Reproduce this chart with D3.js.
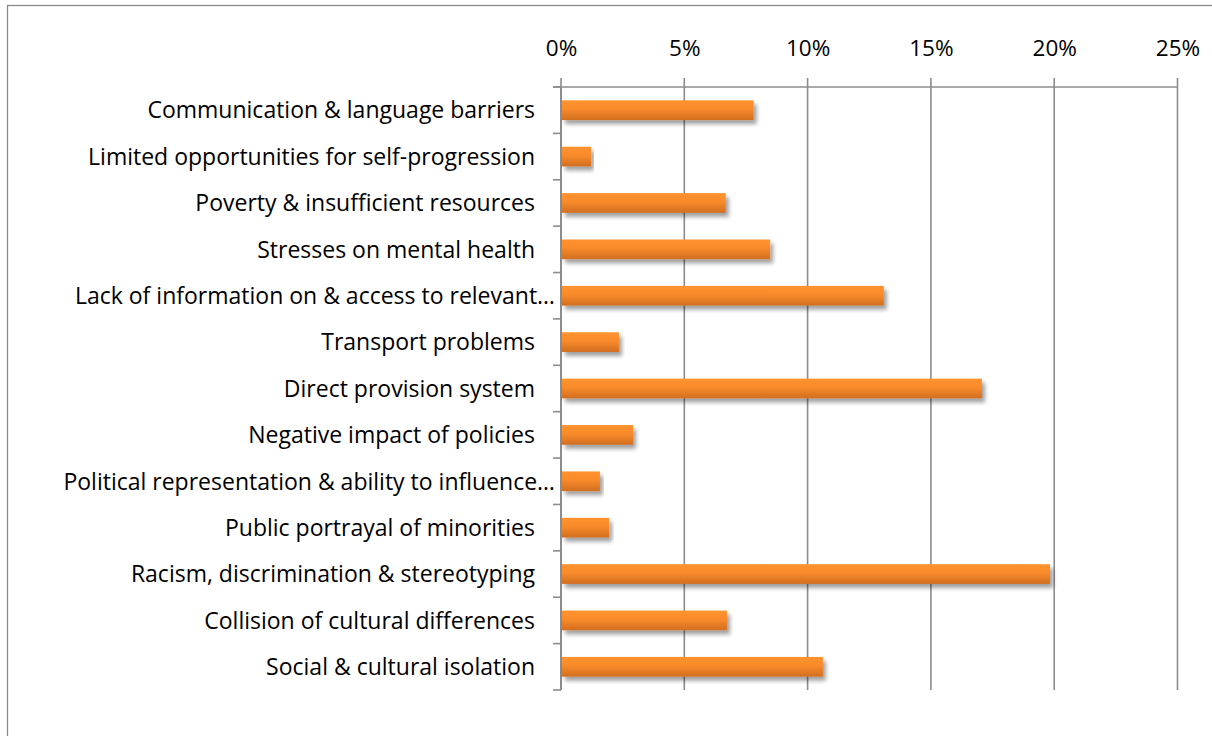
<!DOCTYPE html>
<html>
<head>
<meta charset="utf-8">
<script src="https://cdn.jsdelivr.net/npm/d3@7"></script>
<style>
  html, body { margin: 0; padding: 0; background: #fff; }
  svg { display: block; }
  text { font-family: "Open Sans", sans-serif; fill: #000; }
</style>
</head>
<body>
<script>
// Barriers reported, as share of all responses
const categories = [
  "Communication & language barriers",
  "Limited opportunities for self-progression",
  "Poverty & insufficient resources",
  "Stresses on mental health",
  "Lack of information on & access to relevant\u2026",
  "Transport problems",
  "Direct provision system",
  "Negative impact of policies",
  "Political representation & ability to influence\u2026",
  "Public portrayal of minorities",
  "Racism, discrimination & stereotyping",
  "Collision of cultural differences",
  "Social & cultural isolation"
];
const values = [7.81, 1.22, 6.68, 8.48, 13.09, 2.35, 17.07, 2.92, 1.58, 1.95, 19.83, 6.73, 10.62];
const tickValues = [0, 5, 10, 15, 20, 25];
const tickLabels = ["0%", "5%", "10%", "15%", "20%", "25%"];

const W = 1212, H = 736;
const margin = { top: 87, left: 561, right: 1212 - 1177.5, bottom: 736 - 690 };
const labelSize = 23;
const tickSize = 22.5;

const svg = d3.select("body").append("svg")
  .attr("width", W).attr("height", H);

const defs = svg.append("defs");
const grad = defs.append("linearGradient")
  .attr("id", "barFill").attr("x1", 0).attr("y1", 0).attr("x2", 0).attr("y2", 1);
grad.append("stop").attr("offset", "0%").attr("stop-color", "#ff932f");
grad.append("stop").attr("offset", "45%").attr("stop-color", "#f98a2b");
grad.append("stop").attr("offset", "100%").attr("stop-color", "#d16e20");

const shadow = defs.append("filter").attr("id", "barShadow")
  .attr("x", "-5%").attr("y", "-30%").attr("width", "115%").attr("height", "190%");
shadow.append("feGaussianBlur").attr("in", "SourceAlpha").attr("stdDeviation", 2.2).attr("result", "blur");
shadow.append("feOffset").attr("in", "blur").attr("dx", 3).attr("dy", 3.5).attr("result", "off");
shadow.append("feComponentTransfer").attr("in", "off").attr("result", "soft")
  .append("feFuncA").attr("type", "linear").attr("slope", 0.38);
const merge = shadow.append("feMerge");
merge.append("feMergeNode").attr("in", "soft");
merge.append("feMergeNode").attr("in", "SourceGraphic");

// chart frame
svg.append("rect")
  .attr("x", 7.5).attr("y", 5.5).attr("width", 1240).attr("height", 760)
  .attr("fill", "none").attr("stroke", "#8a8a8a").attr("stroke-width", 1.3);

const x = d3.scaleLinear().domain([0, 25]).range([margin.left, W - margin.right]);
const y = d3.scaleBand().domain(categories)
  .range([margin.top, H - margin.bottom])
  .paddingInner(0.575).paddingOuter(0.2875);

const gridColor = "#8c8c8c";

// vertical gridlines (extend above axis line as outer ticks)
svg.append("g").selectAll("line").data(tickValues).join("line")
  .attr("x1", d => x(d)).attr("x2", d => x(d))
  .attr("y1", margin.top - 9).attr("y2", H - margin.bottom)
  .attr("stroke", gridColor).attr("stroke-width", 1.6);

// top value axis
const xAxis = svg.append("g")
  .attr("transform", `translate(0,${margin.top})`)
  .call(d3.axisTop(x).tickValues(tickValues)
    .tickFormat((d, i) => tickLabels[i]).tickSize(9).tickSizeOuter(0));
xAxis.select(".domain").attr("stroke", gridColor).attr("stroke-width", 1.6)
  .attr("d", `M${x(0) - 8},0H${x(25)}`);
xAxis.selectAll(".tick line").remove();
xAxis.selectAll(".tick text")
  .attr("font-size", tickSize).attr("font-family", "'Open Sans', sans-serif")
  .attr("fill", "#000").attr("dy", "-0.85em");

// category axis (ticks at band boundaries)
const boundaries = d3.range(categories.length + 1).map(i => margin.top + i * y.step());
const yAxisG = svg.append("g");
yAxisG.append("line")
  .attr("x1", x(0)).attr("x2", x(0))
  .attr("y1", margin.top).attr("y2", H - margin.bottom)
  .attr("stroke", gridColor).attr("stroke-width", 2);
yAxisG.selectAll("line.tk").data(boundaries).join("line").attr("class", "tk")
  .attr("x1", x(0) - 8).attr("x2", x(0))
  .attr("y1", d => d).attr("y2", d => d)
  .attr("stroke", gridColor).attr("stroke-width", 1.6);

// category labels
svg.append("g").selectAll("text").data(categories).join("text")
  .attr("x", d => d.endsWith("\u2026") ? x(0) - 6 : x(0) - 26)
  .attr("y", d => y(d) + y.bandwidth() / 2)
  .attr("dy", "0.36em")
  .attr("text-anchor", "end")
  .attr("font-size", labelSize)
  .text(d => d);

// bars
svg.append("g").selectAll("rect").data(values).join("rect")
  .attr("x", x(0) + 1)
  .attr("y", (d, i) => y(categories[i]))
  .attr("width", d => x(d) - x(0) - 1)
  .attr("height", y.bandwidth())
  .attr("fill", "url(#barFill)")
  .attr("filter", "url(#barShadow)");
</script>
</body>
</html>
